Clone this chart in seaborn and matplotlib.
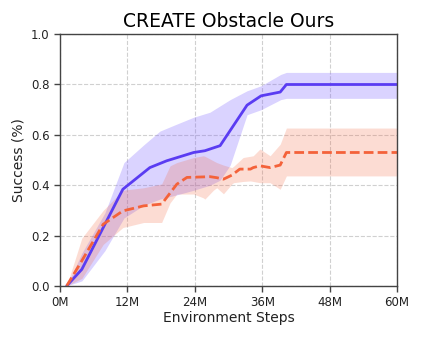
import numpy as np
import pandas as pd
import matplotlib
matplotlib.use("Agg")
import matplotlib.pyplot as plt
from matplotlib.ticker import FuncFormatter
import seaborn as sns

# --- data (x in millions of steps) ---
ours_x = [1.2, 3.9, 11.2, 16.0, 19.0, 23.8, 25.8, 28.5, 33.3, 35.8, 39.2, 40.3, 60.0]
ours_y = [0.0, 0.066, 0.384, 0.47, 0.497, 0.53, 0.537, 0.557, 0.718, 0.755, 0.77, 0.80, 0.80]
ours_band_x = [1.2, 3.9, 8.0, 11.4, 14.9, 17.8, 20.5, 23.8, 26.7, 28.5, 30.3, 33.3, 35.8, 39.3, 40.3, 60.0]
ours_hi = [0.0, 0.13, 0.29, 0.49, 0.56, 0.615, 0.64, 0.67, 0.69, 0.715, 0.74, 0.775, 0.795, 0.84, 0.848, 0.848]
ours_lo = [0.0, 0.02, 0.14, 0.27, 0.32, 0.345, 0.36, 0.38, 0.40, 0.42, 0.48, 0.68, 0.70, 0.74, 0.745, 0.745]

base_x = [1.2, 3.9, 7.7, 11.2, 14.9, 18.1, 20.8, 22.6, 25.5, 26.7, 27.9, 29.1, 30.6,
          32.0, 32.6, 33.9, 34.4, 35.6, 37.4, 39.2, 40.3, 60.0]
base_y = [0.0, 0.10, 0.245, 0.298, 0.318, 0.325, 0.404, 0.431, 0.433, 0.434, 0.43, 0.424, 0.44,
          0.464, 0.464, 0.464, 0.47, 0.477, 0.47, 0.48, 0.53, 0.53]
base_band_x = [1.2, 3.9, 7.7, 11.2, 14.9, 18.1, 19.6, 20.8, 23.8, 25.5, 25.8, 27.3, 27.9,
               29.1, 30.6, 30.9, 32.6, 33.9, 34.4, 35.6, 37.4, 39.2, 40.3, 60.0]
base_hi = [0.0, 0.19, 0.30, 0.38, 0.39, 0.405, 0.477, 0.49, 0.51, 0.517, 0.515, 0.497, 0.49,
           0.48, 0.47, 0.475, 0.51, 0.515, 0.517, 0.544, 0.517, 0.563, 0.627, 0.627]
base_lo = [0.0, 0.03, 0.165, 0.232, 0.252, 0.252, 0.33, 0.365, 0.365, 0.35, 0.345, 0.38, 0.39,
           0.366, 0.405, 0.41, 0.415, 0.417, 0.415, 0.41, 0.41, 0.384, 0.437, 0.437]

ours_color = "#5a3cf2"
base_color = "#f4623a"

sns.set_style("white")
plt.rcParams["font.family"] = ["DejaVu Sans"]

fig = plt.figure(figsize=(4.22, 3.38), dpi=100)
ax = fig.add_axes([0.142, 0.154, 0.799, 0.745])

df_ours = pd.DataFrame({"steps": ours_x, "success": ours_y})
df_base = pd.DataFrame({"steps": base_x, "success": base_y})

ax.fill_between(ours_band_x, ours_lo, ours_hi, color="#7b61ff", alpha=0.28, linewidth=0)
ax.fill_between(base_band_x, base_lo, base_hi, color=base_color, alpha=0.22, linewidth=0)
sns.lineplot(data=df_ours, x="steps", y="success", ax=ax, color=ours_color, linewidth=2)
sns.lineplot(data=df_base, x="steps", y="success", ax=ax, color=base_color, linewidth=2,
             linestyle=(0, (3.5, 1.5)))

ax.set_xlim(0, 60)
ax.set_ylim(0, 1.0)
ax.set_xticks([0, 12, 24, 36, 48, 60])
ax.xaxis.set_major_formatter(FuncFormatter(lambda v, p: f"{int(v)}M"))
ax.set_yticks([0, 0.2, 0.4, 0.6, 0.8, 1.0])
ax.grid(True, linestyle="--", color="#d0d0d0", linewidth=0.8)
for s in ax.spines.values():
    s.set_color("#444444")
    s.set_linewidth(1.0)
ax.tick_params(axis="both", direction="out", length=4, width=1, color="#444444",
               labelsize=8.5, labelcolor="#222222", bottom=True, left=True)
ax.set_title("CREATE Obstacle Ours", fontsize=13.5, pad=5, color="black")
ax.set_xlabel("Environment Steps", fontsize=10, labelpad=1, color="#222222")
ax.set_ylabel("Success (%)", fontsize=10, labelpad=4, color="#222222")

fig.savefig("out.png", dpi=100)
